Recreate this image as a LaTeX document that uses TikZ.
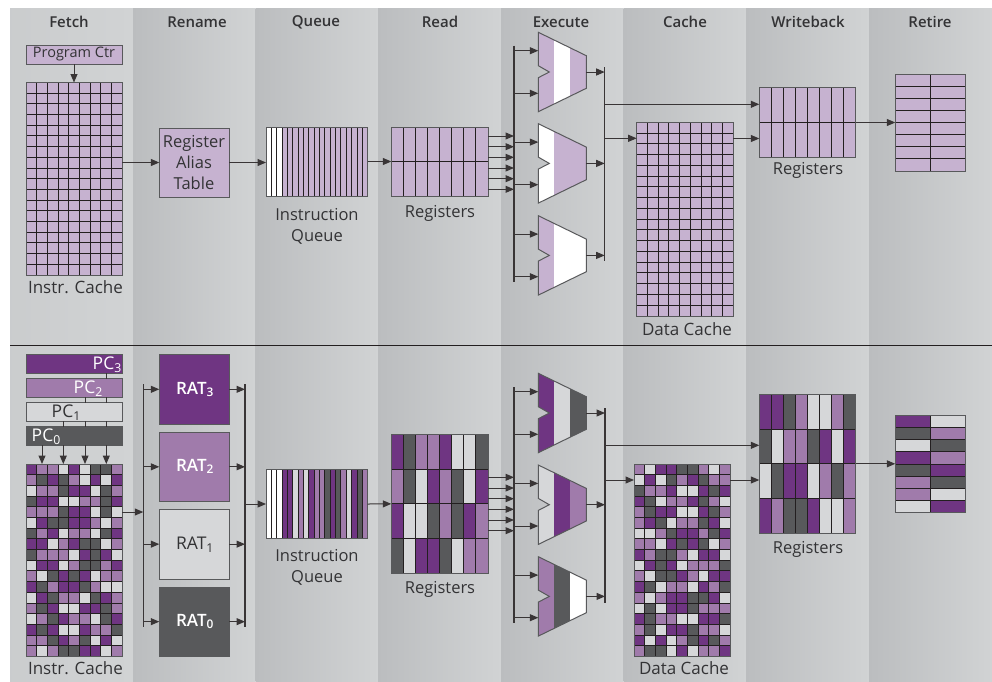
\documentclass[tikz,border=0pt]{standalone}
\usepackage{fontspec}
\setmainfont{Open Sans}
\newfontfamily\headfont{Open Sans Semibold}
\usetikzlibrary{arrows.meta}
\definecolor{cP}{HTML}{6F3582}
\definecolor{cM}{HTML}{A07BAB}
\definecolor{cL}{HTML}{D6D7D9}
\definecolor{cD}{HTML}{58595B}
\definecolor{cW}{HTML}{FFFFFF}
\definecolor{cT}{HTML}{C6B2D0}
\definecolor{ink}{HTML}{231F20}
\definecolor{txt}{HTML}{333335}
\definecolor{colA}{HTML}{BBBDBF}
\definecolor{colB}{HTML}{D1D3D4}
\tikzset{
  conn/.style={draw=ink!90,line width=1pt,-{Triangle[length=8.5pt,width=7pt]}},
  wire/.style={draw=ink!90,line width=1pt},
  busline/.style={draw=ink!90,line width=1.2pt},
  block/.style={draw=cD,line width=1pt,inner sep=0pt,outer sep=0pt,anchor=north west},
  lbl/.style={font=\fontsize{16.5}{21}\selectfont,text=txt,align=center,inner sep=0pt},
  cachelbl/.style={font=\fontsize{17}{21}\selectfont,text=txt,align=center,inner sep=0pt},
  head/.style={font=\fontsize{15}{18}\headfont,text=txt,inner sep=0pt},
  pclbl/.style={font=\fontsize{17.5}{18}\selectfont,inner sep=0pt},
  ratlbl/.style={font=\fontsize{17.5}{18}\selectfont,inner sep=0pt},
  ratbold/.style={font=\fontsize{17}{18}\headfont,text=white,inner sep=0pt},
}
% name, x0, y0, x1, y1, cols, rows, base fill, cell list (row by row)
\newcommand\gridbox[9]{%
  \pgfmathsetmacro\gw{#4-#2}\pgfmathsetmacro\gh{#5-#3}%
  \pgfmathsetmacro\cw{\gw/#6}\pgfmathsetmacro\ch{\gh/#7}%
  \node[block,fill=#8,minimum width=\gw pt,minimum height=\gh pt] (#1) at (#2,#3) {};
  \foreach \c [count=\i from 0] in {#9}{%
    \pgfmathtruncatemacro\cc{mod(\i,#6)}\pgfmathtruncatemacro\rr{div(\i,#6)}%
    \fill[c\c] (#2+\cc*\cw,#3+\rr*\ch) rectangle ++(\cw,\ch);
  }
  \foreach \k in {1,...,#6}{\ifnum\k<#6\relax\draw[ink,line width=1pt] (#2+\k*\cw,#3) -- (#2+\k*\cw,#5);\fi}
  \foreach \k in {1,...,#7}{\ifnum\k<#7\relax\draw[ink,line width=1pt] (#2,#3+\k*\ch) -- (#4,#3+\k*\ch);\fi}
  \draw[cD,line width=1pt] (#2,#3) rectangle (#4,#5);
}
% name, top y, three stripe colours
\newcommand\aluunit[5]{%
  \begin{scope}[shift={(538.3,#2)}]
    \begin{scope}
      \clip (0,0) -- (48,23.4) -- (48,56) -- (0,79.4) -- (0,45.4) -- (11,39.7) -- (0,33.4) -- cycle;
      \fill[#3] (0,-1) rectangle (16,81);
      \fill[#4] (16,-1) rectangle (32,81);
      \fill[#5] (32,-1) rectangle (48,81);
    \end{scope}
    \draw[cD,line width=1pt] (0,0) -- (48,23.4) -- (48,56) -- (0,79.4) -- (0,45.4) -- (11,39.7) -- (0,33.4) -- cycle;
    \coordinate (#1-in1) at (0,18.4);
    \coordinate (#1-in2) at (0,61);
    \coordinate (#1-out) at (48,39.7);
  \end{scope}
}
\begin{document}
\begin{tikzpicture}[x=1pt,y=-1pt]
\useasboundingbox (0,0) rectangle (992,681);
\fill[white] (0,0) rectangle (992,681);
% column bands
\shade[left color=colB!70!colA,right color=colB] (10,8) rectangle (133.2,681);
\foreach \xa/\xb in {133/255.5,255.5/378,378/501,501/623.5,623.5/746,746/869,869/992}
  \shade[left color=colA,right color=colB] (\xa,8) rectangle (\xb,681);
\node[head] (h1) at (69,22) {Fetch};
\node[head] (h2) at (197,22) {Rename};
\node[head] (h3) at (316,22) {Queue};
\node[head] (h4) at (440,22) {Read};
\node[head] (h5) at (561,22) {Execute};
\node[head] (h6) at (685,22) {Cache};
\node[head] (h7) at (808,22) {Writeback};
\node[head] (h8) at (930,22) {Retire};
\coordinate (divL) at (10,345);
\coordinate (divR) at (992,345);
\draw[ink,line width=1pt] (divL) -- (divR);

%% ---------- upper pipeline ----------
\node[block,fill=cT,minimum width=96pt,minimum height=19pt] (pc) at (26,45.3) {};
\node[font=\fontsize{14.5}{15}\selectfont,text=txt,inner sep=0pt] (pct) at (74,53.5) {Program Ctr};
\gridbox{icache}{26}{82.5}{122}{275}{9}{18}{cT}{}
\node[cachelbl] (iclbl) at (75.5,287) {Instr. Cache};
\node[block,fill=cT,minimum width=69.7pt,minimum height=69pt] (rat) at (159.3,128) {};
\node[lbl] (rattxt) at (194,163) {Register\\Alias\\Table};
\gridbox{queue}{266}{127}{367.7}{196}{19}{1}{cT}{W,W,W,T,T,T,T,T,T,T,T,T,T,T,T,T,T,T,T}
\node[lbl] (qlbl) at (317,226) {Instruction\\Queue};
\gridbox{regs}{391.3}{127}{488}{196}{8}{2}{cT}{}
\node[lbl] (rlbl) at (440,213) {Registers};
\aluunit{a1}{32.3}{cT}{white}{cT}
\aluunit{a2}{123.7}{white}{cT}{cT}
\aluunit{a3}{215.7}{cT}{white}{white}
\gridbox{dcache}{636.7}{122.3}{733.3}{316}{9}{18}{cT}{}
\node[cachelbl] (dlbl) at (687,329.5) {Data Cache};
\gridbox{wb}{759.3}{87.7}{855.7}{157.3}{8}{2}{cT}{}
\node[lbl] (wlbl) at (808,170) {Registers};
\gridbox{ret}{895.3}{74.3}{965}{171}{2}{8}{cT}{}
\coordinate (bus) at (514,45.7);
\coordinate (busend) at (514,282.3);
\coordinate (obus) at (604.7,67);
\coordinate (obusend) at (604.7,261);
\draw[busline] (bus) -- (busend);
\draw[busline] (obus) -- (obusend);
\draw[conn] (pc.south) -- (pc.south |- icache.north);
\draw[conn] (icache.east |- rat.west) -- (rat.west);
\draw[conn] (rat.east) -- (queue.west |- rat.east);
\draw[conn] (queue.east) -- (regs.west);
\foreach \y in {136,146.7,157.3,168,178.7,189.3}
  \draw[conn] (regs.east |- 0,\y) -- (bus |- 0,\y);
\foreach \u in {a1,a2,a3}{
  \draw[conn] (bus |- \u-in1) -- (\u-in1);
  \draw[conn] (bus |- \u-in2) -- (\u-in2);
  \draw[conn] (\u-out) -- (obus |- \u-out);
}
\draw[conn] (obus |- 0,104.3) -- (wb.west |- 0,104.3);
\draw[conn] (obus |- 0,138.3) -- (dcache.west |- 0,138.3);
\draw[conn] (dcache.east |- 0,138.5) -- (wb.west |- 0,138.5);
\draw[conn] (wb.east) -- (ret.west |- wb.east);

%% ---------- lower pipeline ----------
\node[block,fill=cP,minimum width=96pt,minimum height=18.6pt] (pc3) at (26,354.7) {};
\node[block,fill=cM,minimum width=96pt,minimum height=18.6pt] (pc2) at (26,378.7) {};
\node[block,fill=cL,minimum width=96pt,minimum height=18.6pt] (pc1) at (26,402.7) {};
\node[block,fill=cD,minimum width=96pt,minimum height=18.6pt] (pc0) at (26,426.7) {};
\node[pclbl,text=white,anchor=base east] (pc3t) at (122,369.5) {PC\textsubscript{3}};
\node[pclbl,text=white,anchor=base east] (pc2t) at (103,393.5) {PC\textsubscript{2}};
\node[pclbl,text=txt,anchor=base east] (pc1t) at (81,417.5) {PC\textsubscript{1}};
\node[pclbl,text=white,anchor=base east] (pc0t) at (61,441.5) {PC\textsubscript{0}};
\gridbox{icb}{26}{464}{122}{656.5}{9}{18}{cL}{P,M,M,L,P,L,D,D,M,
M,D,P,D,M,L,P,L,P,
L,M,M,D,P,P,L,D,M,
D,P,P,L,L,M,M,D,P,
M,M,M,D,P,P,L,D,L,
L,P,D,D,P,P,M,L,M,
D,M,P,L,M,M,L,D,P,
P,P,L,M,P,D,D,L,M,
D,M,M,M,L,P,D,P,L,
L,P,P,L,M,D,D,M,P,
M,L,D,P,D,P,L,M,M,
P,D,M,P,P,D,M,L,L,
L,P,D,M,M,L,D,P,M,
M,D,P,L,L,P,P,D,M,
L,M,D,P,M,M,L,D,P,
P,D,P,L,L,P,M,M,D,
M,M,D,P,M,D,L,P,L,
M,L,M,D,D,P,P,L,M}
\node[cachelbl] (icblbl) at (75.5,668) {Instr. Cache};
\node[block,fill=cP,minimum width=69.7pt,minimum height=70pt] (rat3) at (159.3,354.3) {};
\node[block,fill=cM,minimum width=69.7pt,minimum height=69pt] (rat2) at (159.3,432.3) {};
\node[block,fill=cL,minimum width=69.7pt,minimum height=69.7pt] (rat1) at (159.3,509.3) {};
\node[block,fill=cD,minimum width=69.7pt,minimum height=69.3pt] (rat0) at (159.3,587) {};
\node[ratbold] (r3t) at (195,389.5) {RAT\textsubscript{3}};
\node[ratbold] (r2t) at (195,466.5) {RAT\textsubscript{2}};
\node[ratlbl,text=txt] (r1t) at (195,545) {RAT\textsubscript{1}};
\node[ratbold] (r0t) at (195,621.5) {RAT\textsubscript{0}};
\gridbox{qb}{266}{469.3}{367.7}{538.7}{19}{1}{cL}{W,W,W,P,P,L,M,L,P,M,M,D,P,D,M,L,P,D,M}
\node[lbl] (qblbl) at (317,567) {Instruction\\Queue};
\gridbox{rb}{391.3}{434.7}{488}{573}{8}{4}{cL}{P,D,M,M,P,L,L,D,
M,D,L,P,M,D,L,P,
P,L,L,D,M,D,P,M,
D,L,P,P,D,L,M,M}
\node[lbl] (rblbl) at (440,589) {Registers};
\aluunit{b1}{373.3}{cP}{cL}{cD}
\aluunit{b2}{465}{cL}{cP}{cM}
\aluunit{b3}{556.7}{cM}{cD}{white}
\gridbox{dcb}{634}{464}{730}{656.5}{9}{18}{cL}{M,L,P,P,D,D,M,L,M,
L,P,L,D,M,P,D,M,M,
D,M,M,P,L,L,P,D,P,
P,D,L,M,M,P,D,M,L,
M,D,P,P,L,L,P,D,M,
M,P,D,L,M,M,D,P,L,
L,L,M,D,P,P,M,D,P,
M,M,L,P,D,P,D,L,M,
P,M,D,D,M,L,P,P,L,
L,P,D,P,L,M,M,M,D,
M,L,D,D,P,M,L,P,P,
P,D,L,M,M,L,P,M,D,
M,L,M,P,P,D,D,P,L,
L,D,L,P,P,D,M,M,M,
P,D,M,M,L,L,P,P,D,
M,D,L,P,P,D,M,M,L,
P,L,P,L,M,D,P,D,M,
M,D,D,L,P,L,M,M,P}
\node[cachelbl] (dblbl) at (684,668) {Data Cache};
\gridbox{wbb}{759.3}{394.3}{855.7}{533.3}{8}{4}{cL}{P,P,D,M,L,L,M,D,
D,L,M,M,D,P,L,P,
L,D,P,P,L,M,D,M,
P,M,D,D,P,L,L,M}
\node[lbl] (wblbl) at (808,549) {Registers};
\gridbox{retb}{895.3}{415.7}{965}{512.3}{2}{8}{cL}{P,L,D,M,L,D,P,M,D,P,M,D,M,L,L,P}
% PC connectors
\foreach \x in {42,63.3,85,106.3}
  \draw[conn] (pc0.south -| \x,0) -- (icb.north -| \x,0);
\foreach \x in {63.3,85,106.3}
  \draw[wire] (pc1.south -| \x,0) -- (pc0.north -| \x,0);
\foreach \x in {85,106.3}
  \draw[wire] (pc2.south -| \x,0) -- (pc1.north -| \x,0);
\draw[wire] (pc3.south -| 106.3,0) -- (pc2.north -| 106.3,0);
% rename buses
\coordinate (rbus) at (143.3,384.3);
\coordinate (rbusend) at (143.3,626.7);
\coordinate (sbus) at (245,384.3);
\coordinate (sbusend) at (245,626.7);
\draw[busline] (rbus) -- (rbusend);
\draw[busline] (sbus) -- (sbusend);
\draw[conn] (icb.east |- 0,512) -- (rbus |- 0,512);
\foreach \r in {rat3,rat2,rat1,rat0}{
  \draw[conn] (rbus |- \r.west) -- (\r.west);
  \draw[conn] (\r.east) -- (sbus |- \r.east);
}
\draw[conn] (sbus |- qb.west) -- (qb.west);
\draw[conn] (qb.east) -- (rb.west);
\coordinate (xbus) at (514,387.3);
\coordinate (xbusend) at (514,623.3);
\coordinate (ybus) at (605,408.3);
\coordinate (ybusend) at (605,602.7);
\draw[busline] (xbus) -- (xbusend);
\draw[busline] (ybus) -- (ybusend);
\foreach \y in {477.3,488,498.7,509.3,520,530.7}
  \draw[conn] (rb.east |- 0,\y) -- (xbus |- 0,\y);
\foreach \u in {b1,b2,b3}{
  \draw[conn] (xbus |- \u-in1) -- (\u-in1);
  \draw[conn] (xbus |- \u-in2) -- (\u-in2);
  \draw[conn] (\u-out) -- (ybus |- \u-out);
}
\draw[conn] (ybus |- 0,445.3) -- (wbb.west |- 0,445.3);
\draw[conn] (ybus |- 0,480) -- (dcb.west |- 0,480);
\draw[conn] (dcb.east |- 0,480) -- (wbb.west |- 0,480);
\draw[conn] (wbb.east) -- (retb.west |- wbb.east);
\end{tikzpicture}
\end{document}
